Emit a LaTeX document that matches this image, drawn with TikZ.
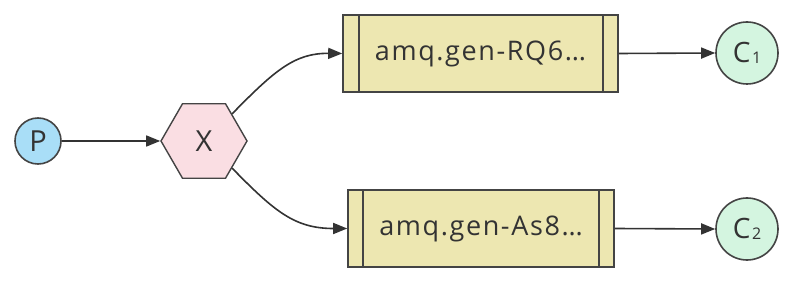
\documentclass[tikz,border=0pt]{standalone}
\usepackage{fontspec}
\setmainfont{Open Sans}
\newfontfamily\qfont[LetterSpace=6]{Open Sans}
\usetikzlibrary{shapes.geometric,arrows.meta}
\definecolor{edgec}{HTML}{333333}
\definecolor{pfill}{HTML}{A9DEF7}
\definecolor{xfill}{HTML}{FADEE3}
\definecolor{qfill}{HTML}{EDE7B1}
\definecolor{cfill}{HTML}{D4F5E0}
\definecolor{strokec}{HTML}{444444}
\tikzset{
  every node/.style={text=edgec},
  bigtxt/.style={font=\fontsize{29}{32}\selectfont},
  qtxt/.style={font=\qfont\fontsize{27}{30}\selectfont},
  circ/.style={circle, draw=strokec, line width=1.6pt, inner sep=0pt},
  hexa/.style={regular polygon, regular polygon sides=6, draw=strokec, line width=1.4pt, fill=xfill, minimum size=86pt, inner sep=0pt, bigtxt},
  queue/.style={rectangle, draw=strokec, line width=1.6pt, fill=qfill, minimum height=77pt, inner sep=0pt, qtxt},
  conn/.style={draw=edgec, line width=1.6pt, -{Triangle[length=14pt,width=11pt]}}
}
\newcommand{\subc}[1]{C\kern1.5pt{\fontsize{16}{16}\selectfont\raisebox{-1pt}{#1}}}
\begin{document}
\begin{tikzpicture}[x=1pt,y=-1pt]
\useasboundingbox (0,0) rectangle (810,288);
\node[circ, fill=pfill, minimum size=46pt, bigtxt] (p) at (38,141) {P};
\node[hexa] (x) at (204,141) {X};
\node[queue, minimum width=275pt] (q1) at (480.5,53.5) {amq.gen-RQ6…};
\node[queue, minimum width=266pt] (q2) at (481,228.5) {amq.gen-As8…};
\node[circ, fill=cfill, minimum size=62pt, font=\fontsize{28}{30}\selectfont] (c1) at (747,53) {\subc{1}};
\node[circ, fill=cfill, minimum size=62pt, font=\fontsize{28}{30}\selectfont] (c2) at (747,229) {\subc{2}};
\draw[strokec, line width=1.6pt] ([xshift=17pt]q1.north west) -- ([xshift=17pt]q1.south west);
\draw[strokec, line width=1.6pt] ([xshift=-16pt]q1.north east) -- ([xshift=-16pt]q1.south east);
\draw[strokec, line width=1.6pt] ([xshift=16pt]q2.north west) -- ([xshift=16pt]q2.south west);
\draw[strokec, line width=1.6pt] ([xshift=-16pt]q2.north east) -- ([xshift=-16pt]q2.south east);
\draw[conn] (p) -- (x);
\draw[conn] (x.44) .. controls (275,70) and (295,53) .. (q1.west);
\draw[conn] (x.-44) .. controls (275,212) and (295,228.5) .. (q2.west);
\draw[conn] (q1.east) -- (c1.west);
\draw[conn] (q2.east) -- (c2.west);
\end{tikzpicture}
\end{document}
